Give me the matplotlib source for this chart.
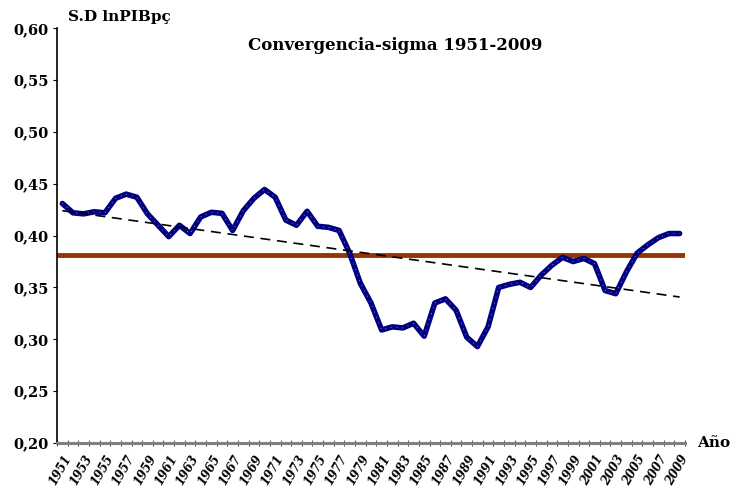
import numpy as np
import matplotlib
matplotlib.use("Agg")
import matplotlib.pyplot as plt
from matplotlib.ticker import FixedLocator, FuncFormatter

# sigma convergence: standard deviation of ln GDP per capita
years = list(range(1951, 2010))
sd_lnpib = [0.431, 0.422, 0.421, 0.423, 0.422, 0.436, 0.440, 0.437, 0.421, 0.410,
            0.399, 0.410, 0.402, 0.418, 0.4225, 0.4215, 0.405, 0.424, 0.436, 0.4445,
            0.437, 0.415, 0.410, 0.4235, 0.409, 0.408, 0.405, 0.383, 0.354, 0.335,
            0.309, 0.312, 0.311, 0.3155, 0.303, 0.335, 0.339, 0.328, 0.302, 0.293,
            0.312, 0.350, 0.353, 0.355, 0.350, 0.362, 0.3715, 0.379, 0.375, 0.378,
            0.373, 0.347, 0.344, 0.365, 0.383, 0.391, 0.398, 0.402, 0.402]
media = 0.381
yticks = [0.20, 0.25, 0.30, 0.35, 0.40, 0.45, 0.50, 0.55, 0.60]

x = np.arange(len(years))
y = np.array(sd_lnpib)
slope, intercept = np.polyfit(x, y, 1)

fig = plt.figure(figsize=(7.31, 4.92), dpi=100)
ax = fig.add_axes([0.078, 0.0996, 0.859, 0.843])

ax.plot(x, y, color="#000080", lw=4.0, solid_joinstyle="round", solid_capstyle="round", zorder=3)
ax.plot(x, y, color="white", lw=0.6, ls=(0, (1, 6)), alpha=0.7, zorder=4)
ax.axhline(media, color="#993300", lw=3.5, zorder=2)
ax.plot(x, slope * x + intercept, color="black", lw=1.2, dashes=(6, 4), zorder=5)

ax.set_xlim(-0.5, len(years) - 0.5)
ax.set_ylim(0.20, 0.60)

ax.set_yticks(yticks)
ax.yaxis.set_major_formatter(FuncFormatter(lambda v, p: f"{v:.2f}".replace(".", ",")))
ax.tick_params(axis="y", direction="out", length=3, width=0.8, pad=3, labelsize=10.5)
for t in ax.get_yticklabels():
    t.set_fontfamily("DejaVu Serif")
    t.set_fontweight("bold")

ax.set_xticks(x[::2])
ax.set_xticklabels([str(v) for v in years[::2]], rotation=60, ha="right", va="top",
                   rotation_mode="anchor", fontsize=8.5, fontfamily="DejaVu Serif",
                   fontweight="bold", fontstyle="italic")
ax.tick_params(axis="x", which="major", length=0, pad=7)
ax.xaxis.set_minor_locator(FixedLocator(np.arange(-0.5, len(years), 1)))
ax.tick_params(axis="x", which="minor", direction="inout", length=4, width=0.8, color="#555555")

for s in ["top", "right"]:
    ax.spines[s].set_visible(False)
ax.spines["left"].set_color("black")
ax.spines["left"].set_linewidth(1.2)
ax.spines["bottom"].set_color("#808080")
ax.spines["bottom"].set_linewidth(2.2)

fig.text(0.093, 0.965, "S.D lnPIBpç", fontsize=11, fontweight="bold", fontfamily="DejaVu Serif",
         ha="left", va="center")
fig.text(0.54, 0.908, "Convergencia-sigma 1951-2009", fontsize=12, fontweight="bold",
         fontfamily="DejaVu Serif", ha="center", va="center")
fig.text(0.953, 0.0996, "Año", fontsize=11, fontweight="bold", fontfamily="DejaVu Serif",
         ha="left", va="center")

fig.savefig("out.png", dpi=100)
